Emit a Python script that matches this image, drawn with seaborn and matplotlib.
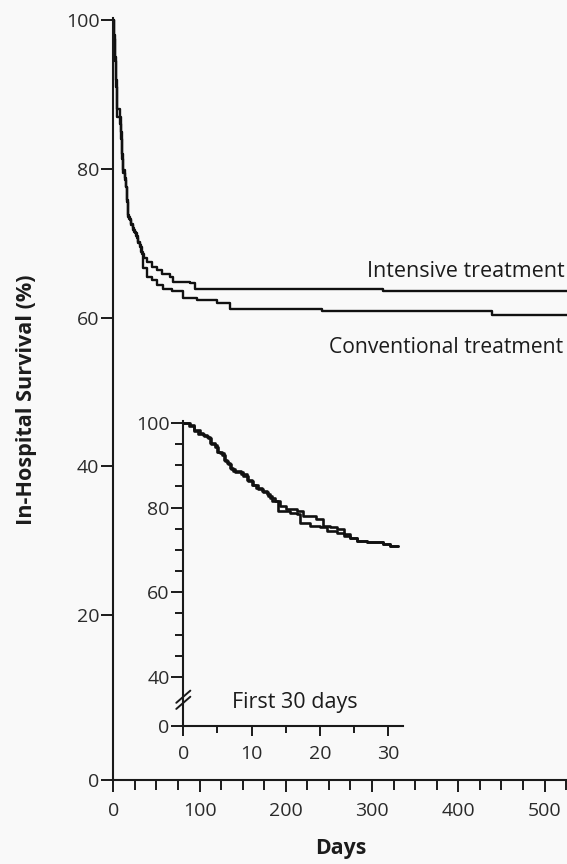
import numpy as np
import pandas as pd
import matplotlib
matplotlib.use("Agg")
import matplotlib.pyplot as plt
from matplotlib.ticker import FixedLocator, MultipleLocator
import seaborn as sns

# ---- Kaplan-Meier step data (days, in-hospital survival %) ----
main_intensive_days = [0, 1.0, 2.0, 3.2, 4.6, 8.5, 9.7, 10.6, 11.6, 13.5, 15.0, 16.0, 17.0, 19.0,
                       21.0, 23.0, 25.0, 27.0, 29.0, 31.0, 33.0, 36.0, 39.0, 44.5, 50.3, 56.1,
                       65.7, 69.5, 88.9, 94.7, 312.9, 526]
main_intensive_surv = [100, 97.5, 94.5, 91.0, 87.0, 85.0, 83.0, 81.3, 79.4, 78.5, 77.6, 75.5, 73.5, 73.1,
                       72.4, 71.8, 71.4, 70.7, 70.0, 69.5, 68.6, 68.0, 67.5, 66.8, 66.4, 65.9,
                       65.5, 64.8, 64.6, 63.8, 63.5, 63.5]

main_conventional_days = [0, 0.6, 1.5, 2.6, 4.0, 8.0, 9.3, 10.3, 11.2, 13.0, 14.6, 15.6, 16.6, 18.5,
                          20.5, 22.5, 24.5, 26.5, 28.5, 30.5, 32.5, 34.5, 38.7, 44.5, 50.3, 57.9,
                          67.7, 81.1, 96.6, 119.8, 135.2, 241.5, 438.5, 526]
main_conventional_surv = [100, 98.0, 95.0, 92.0, 88.0, 86.0, 84.0, 82.0, 79.8, 78.8, 77.6, 75.8, 73.8, 73.3,
                          72.6, 72.0, 71.5, 70.9, 70.2, 69.7, 68.8, 66.6, 65.5, 65.0, 64.4, 63.9,
                          63.5, 62.6, 62.4, 61.9, 61.2, 60.9, 60.4, 60.4]

inset_intensive_days = [0, 1.0, 1.5, 2.4, 2.9, 3.4, 3.9, 4.6, 4.9, 5.4, 5.9, 6.4, 6.8, 7.3, 8.5, 9.3,
                        10.0, 10.7, 11.5, 12.2, 12.7, 13.4, 14.1, 15.1, 16.6, 17.6, 19.5, 20.5, 21.5,
                        22.5, 23.5, 24.4, 25.4, 26.9, 29.3, 30.3, 31.5]
inset_intensive_surv = [100, 99.5, 98.3, 97.5, 97.1, 96.7, 95.2, 94.8, 93.2, 92.8, 91.3, 90.5, 89.3, 88.5,
                        87.8, 86.6, 85.4, 84.6, 83.8, 83.1, 82.3, 81.5, 80.3, 79.6, 79.2, 78.0, 77.2,
                        75.6, 75.3, 74.9, 73.7, 72.9, 72.1, 71.8, 71.4, 71.0, 71.0]

inset_conventional_days = [0, 0.8, 1.6, 2.2, 3.0, 3.6, 4.1, 4.7, 5.1, 5.6, 6.1, 6.6, 7.0, 7.6, 8.8, 9.5,
                           10.2, 10.9, 11.7, 12.4, 13.0, 13.9, 15.6, 16.6, 17.1, 18.6, 20.0, 21.0, 22.5,
                           23.5, 24.4, 25.4, 26.9, 29.3, 30.3, 31.5]
inset_conventional_surv = [100, 99.3, 98.0, 97.3, 96.9, 96.3, 95.0, 94.3, 93.0, 92.5, 91.0, 90.3, 89.0,
                           88.3, 87.5, 86.3, 85.2, 84.3, 83.6, 82.8, 81.5, 79.2, 78.8, 78.4, 76.4, 75.6,
                           75.3, 74.5, 74.1, 73.3, 72.9, 72.1, 71.8, 71.4, 71.0, 71.0]

main_xticks = [0, 100, 200, 300, 400, 500]
main_yticks = [0, 20, 40, 60, 80, 100]
inset_xticks = [0, 10, 20, 30]
inset_yticks = [0, 40, 60, 80, 100]

series_labels = ["Intensive treatment", "Conventional treatment"]

# ---- style ----
sns.set_theme(style="ticks")
plt.rcParams["font.family"] = ["Open Sans", "DejaVu Sans"]
BG = "#f9f9f9"
INK = "#1a1a1a"
plt.rcParams.update({
    "axes.edgecolor": INK,
    "xtick.color": INK,
    "ytick.color": INK,
    "text.color": "#1c1c1c",
    "xtick.labelcolor": "#2a2a2a",
    "ytick.labelcolor": "#2a2a2a",
})


def piecewise_scale(threshold, k):
    """Linear above `threshold`, compressed/stretched by `k` below it."""
    def fwd(y):
        y = np.asarray(y, dtype=float)
        return np.where(y >= threshold, y, threshold - (threshold - y) * k)

    def inv(v):
        v = np.asarray(v, dtype=float)
        return np.where(v >= threshold, v, threshold - (threshold - v) / k)
    return fwd, inv


def frame(days, surv, group):
    return pd.DataFrame({"day": days, "survival": surv, "group": group})


fig = plt.figure(figsize=(5.67, 8.64), dpi=100, facecolor=BG)

# ---- main panel ----
ax = fig.add_axes([0.1998, 0.09722, 0.8002, 0.8822], facecolor=BG)
ax.set_yscale("function", functions=piecewise_scale(20, 1.109))

for d, s, g in [(main_intensive_days, main_intensive_surv, series_labels[0]),
                (main_conventional_days, main_conventional_surv, series_labels[1])]:
    sns.lineplot(data=frame(d, s, g), x="day", y="survival", ax=ax, color="#111111",
                 lw=1.7, drawstyle="steps-post", estimator=None, sort=False,
                 legend=False)

ax.set_xlim(0, 526)
ax.set_ylim(0, 100.3)
ax.set_xticks(main_xticks)
ax.xaxis.set_minor_locator(MultipleLocator(25))
ax.yaxis.set_major_locator(FixedLocator(main_yticks))
ax.yaxis.set_minor_locator(FixedLocator([]))
ax.set_yticklabels([str(v) for v in main_yticks])
ax.set_xlabel("")
ax.set_ylabel("")
sns.despine(ax=ax)
for sp in ("left", "bottom"):
    ax.spines[sp].set_linewidth(1.5)
ax.tick_params(axis="x", which="major", length=8.5, width=1.4, pad=7, labelsize=14)
ax.tick_params(axis="x", which="minor", length=7, width=1.4)
ax.tick_params(axis="y", which="major", length=8.6, width=1.4, pad=1.4, labelsize=14)

ax.text(523, 65.4, series_labels[0], ha="right", va="baseline", fontsize=15.5)
ax.text(521, 55.2, series_labels[1], ha="right", va="baseline", fontsize=15.2)

fig.text(27 / 567, 1 - 400 / 864, "In-Hospital Survival (%)", rotation=90,
         ha="center", va="center", fontsize=15.6, fontweight="bold")
fig.text(341 / 567, 1 - 854 / 864, "Days", ha="center", va="baseline",
         fontsize=15.3, fontweight="bold")

# ---- inset: first 30 days ----
axi = fig.add_axes([0.3233, 0.16007, 0.3875, 0.3531], facecolor="none")
axi.set_yscale("function", functions=piecewise_scale(40, 0.2867))

for d, s, g in [(inset_intensive_days, inset_intensive_surv, series_labels[0]),
                (inset_conventional_days, inset_conventional_surv, series_labels[1])]:
    sns.lineplot(data=frame(d, s, g), x="day", y="survival", ax=axi, color="#111111",
                 lw=1.9, drawstyle="steps-post", estimator=None, sort=False,
                 legend=False)

axi.set_xlim(0, 32.2)
axi.set_ylim(0, 100.5)
axi.set_xticks(inset_xticks)
axi.xaxis.set_minor_locator(MultipleLocator(5))
axi.yaxis.set_major_locator(FixedLocator(inset_yticks))
axi.yaxis.set_minor_locator(FixedLocator([v for v in range(45, 100, 5) if v % 20]))
axi.set_yticklabels([str(v) for v in inset_yticks])
axi.set_xlabel("")
axi.set_ylabel("")
sns.despine(ax=axi)
for sp in ("left", "bottom"):
    axi.spines[sp].set_linewidth(1.5)
axi.tick_params(axis="x", which="major", length=7.2, width=1.4, pad=6.5, labelsize=14)
axi.tick_params(axis="x", which="minor", length=5, width=1.4)
axi.tick_params(axis="y", which="major", length=9, width=1.4, pad=0.8, labelsize=14)
axi.tick_params(axis="y", which="minor", length=6, width=1.4)

# axis-break marks on the inset's y axis
for yc in (0.075, 0.095):
    axi.plot([-0.032, 0.032], [yc - 0.02, yc + 0.02], transform=axi.transAxes,
             color=INK, lw=1.4, clip_on=False)

axi.text(0.222, 0.058, "First 30 days", transform=axi.transAxes, ha="left",
         va="baseline", fontsize=15.5)

fig.savefig("out.png", dpi=100, facecolor=BG)
